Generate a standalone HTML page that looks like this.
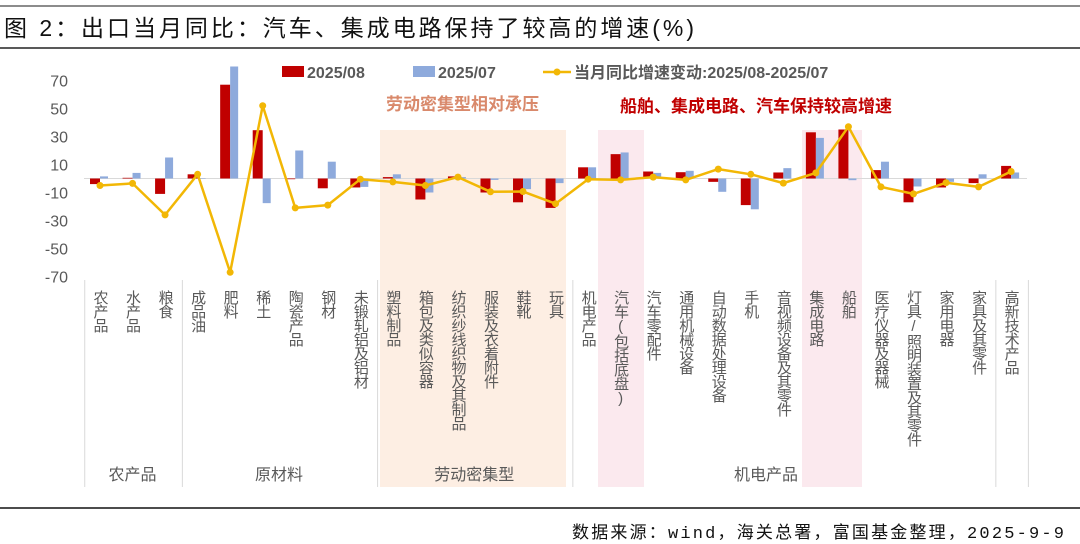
<!DOCTYPE html>
<html><head><meta charset="utf-8"><style>
html,body{margin:0;padding:0;background:#fff;}
svg{display:block;font-family:"Liberation Sans","Noto Sans CJK SC",sans-serif;}
</style></head><body>
<svg id="chart" width="1080" height="544" viewBox="0 0 1080 544" xmlns="http://www.w3.org/2000/svg">
<line x1="0" y1="6" x2="1080" y2="6" stroke="#666" stroke-width="1.5"/>
<text x="4" y="36" font-size="23" fill="#111" textLength="690" lengthAdjust="spacing">图 2：出口当月同比：汽车、集成电路保持了较高的增速(%)</text>
<line x1="0" y1="48" x2="1080" y2="48" stroke="#222" stroke-width="1.5"/>
<rect x="380" y="130" width="186" height="357" fill="#fdeee3"/>
<rect x="598" y="130" width="46" height="357" fill="#fbe9ee"/>
<rect x="802" y="130" width="60" height="357" fill="#fbe9ee"/>
<text x="386" y="110" font-size="17" font-weight="bold" fill="#d9896b">劳动密集型相对承压</text>
<text x="620" y="112" font-size="17" font-weight="bold" fill="#c00000">船舶、集成电路、汽车保持较高增速</text>
<g font-size="16" font-weight="bold" fill="#595959">
<rect x="282" y="66" width="22" height="11" fill="#c00000"/>
<text x="307" y="78">2025/08</text>
<rect x="413" y="66" width="22" height="11" fill="#8eaadc"/>
<text x="438" y="78">2025/07</text>
<line x1="543" y1="72" x2="571" y2="72" stroke="#f2b705" stroke-width="2.5"/>
<circle cx="557" cy="72" r="3.5" fill="#f2b705"/>
<text x="574" y="78">当月同比增速变动:2025/08-2025/07</text>
</g>
<g id="plot"></g>
<line x1="0" y1="508" x2="1080" y2="508" stroke="#111" stroke-width="1.5"/>
<text x="572" y="538" font-size="17" fill="#111" textLength="492" lengthAdjust="spacing" style='font-family:"Liberation Mono","Noto Sans CJK SC",monospace'>数据来源：wind，海关总署，富国基金整理，2025-9-9</text>
</svg>
<script>
const categories=["农产品","水产品","粮食","成品油","肥料","稀土","陶瓷产品","钢材","未锻轧铝及铝材","塑料制品","箱包及类似容器","纺织纱线织物及其制品","服装及衣着附件","鞋靴","玩具","机电产品","汽车(包括底盘)","汽车零配件","通用机械设备","自动数据处理设备","手机","音视频设备及其零件","集成电路","船舶","医疗仪器及器械","灯具/照明装置及其零件","家用电器","家具及其零件","高新技术产品"];
const aug=[-4,0.5,-11,3,67,34.5,-0.5,-7,-6.4,1,-15,1.5,-10,-17,-21,8,17.4,5,4.5,-2.4,-19,4.3,33,35,6,-17,-6.4,-3.3,9];
const jul=[1.5,4,15,0.3,80,-17.6,20,12,-6,3,-10,1,-1,-7.6,-3.3,8,18.6,4,5.5,-9.5,-22,7.4,29,-1.2,12,-5.7,-2.4,3,4.3];
const change=[-5,-3.5,-26,3,-67,52,-21,-19,-0.5,-2.4,-5,1,-9.5,-9.3,-18,-0.5,-1,1,-1,6.7,3,-3.3,4,37,-6,-11,-3,-6,5];
const yTicks=[70,50,30,10,-10,-30,-50,-70];
const groups=[{name:"农产品",from:0,to:2},{name:"原材料",from:3,to:8},{name:"劳动密集型",from:9,to:14},{name:"机电产品",from:15,to:28}];
const separators=[-0.5,2.5,8.5,14.5,27.5,28.5];
const NS="http://www.w3.org/2000/svg";
const g=document.getElementById('plot');
const x0=100,step=32.54,zeroY=178.5,unit=1.4;
function xs(i){return x0+i*step;}
function ys(v){return zeroY-v*unit;}
function mk(tag,attrs){const e=document.createElementNS(NS,tag);for(const k in attrs)e.setAttribute(k,attrs[k]);g.appendChild(e);return e;}
yTicks.forEach(t=>{const e=mk('text',{x:68,y:ys(t)+6,'font-size':16,fill:'#595959','text-anchor':'end'});e.textContent=t;

});
const zl=mk('line',{x1:84,x2:1027,y1:zeroY,y2:zeroY,stroke:'#d9d9d9','stroke-width':1});


separators.forEach(s=>{const l=mk('line',{x1:xs(s)+1,x2:xs(s)+1,y1:280,y2:487,stroke:'#d9d9d9','stroke-width':1});

});
const bw=10;
categories.forEach((c,i)=>{
 const a=aug[i],b=jul[i];
 const r=mk('rect',{x:xs(i)-bw,y:Math.min(ys(a),zeroY),width:bw,height:Math.max(Math.abs(a)*unit,0.5),fill:'#c00000'});
 
 
 const r2=mk('rect',{x:xs(i),y:Math.min(ys(b),zeroY),width:bw-2,height:Math.max(Math.abs(b)*unit,0.5),fill:'#8eaadc'});
 
 
 const t=mk('text',{x:xs(i),y:290,'font-size':15,fill:'#595959',style:'writing-mode:vertical-rl;text-orientation:upright;letter-spacing:-1px'});
 t.textContent=c;
 
 
});
const pts=change.map((v,i)=>xs(i)+','+ys(v)).join(' ');
const pl=mk('polyline',{points:pts,fill:'none',stroke:'#f2b705','stroke-width':2.5,'stroke-linejoin':'round'});


change.forEach((v,i)=>{const c=mk('circle',{cx:xs(i),cy:ys(v),r:3.5,fill:'#f2b705'});

});
groups.forEach(gr=>{const cx=gr.name==="机电产品"?766:(xs(gr.from)+xs(gr.to))/2;
const t=mk('text',{x:cx,y:480,'font-size':16,fill:'#595959','text-anchor':'middle'});t.textContent=gr.name;

});
</script>
</body></html>
